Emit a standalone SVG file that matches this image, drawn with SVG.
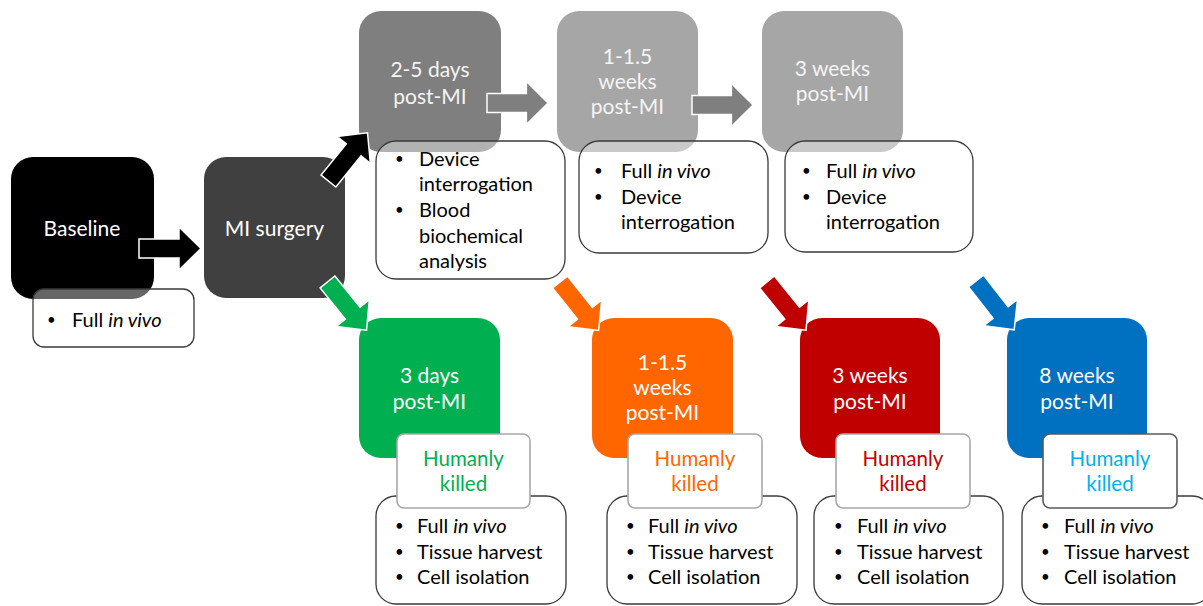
<svg xmlns="http://www.w3.org/2000/svg" width="1203" height="606" viewBox="0 0 1203 606">
<style>
text{font-family:Lato,"Liberation Sans",sans-serif;font-size:20px}
.t{fill:#fff;text-anchor:middle;font-size:21px}
.tg{fill:#f4f4f4;text-anchor:middle;font-size:21px}
.b{fill:#000}
.d{font-size:15px}
.i{font-style:italic}
.bx{fill:#fff;fill-opacity:0.4;stroke:#3a3a3a;stroke-width:1.3}
.hk{fill:#fff;stroke:#a8a8a8;stroke-width:1.6}
.hkt{text-anchor:middle;font-size:20.5px}
.ar{stroke:#fff;stroke-width:1.5;stroke-linejoin:miter}
</style>
<defs>
<path id="arr" d="M0,-9.5 L40,-9.5 L40,-21.5 L62,0 L40,21.5 L40,9.5 L0,9.5 Z"/>
</defs>
<rect width="1203" height="606" fill="#fff"/>

<g id="baseline">
<rect x="11" y="157" width="143" height="142" rx="22" fill="#000"/>
<text class="t" x="82" y="236">Baseline</text>
<rect class="bx" x="33" y="289" width="161" height="58" rx="11"/>
<text class="b d" x="47" y="325">•</text>
<text class="b" x="72" y="327">Full <tspan class="i">in vivo</tspan></text>
</g>

<g id="mi-surgery">
<rect x="204" y="157" width="141" height="141" rx="22" fill="#404040"/>
<text class="t" x="274.5" y="236">MI surgery</text>
</g>

<g id="d2-5">
<rect x="359" y="11" width="142" height="141" rx="22" fill="#7f7f7f"/>
<text class="tg" x="430" y="77">2-5 days</text>
<text class="tg" x="430" y="104">post-MI</text>
<rect class="bx" x="376" y="141" width="189" height="138" rx="20"/>
<text class="b d" x="395" y="164">•</text>
<text class="b" x="419" y="166">Device</text>
<text class="b" x="419" y="191">interrogation</text>
<text class="b d" x="395" y="215">•</text>
<text class="b" x="419" y="217">Blood</text>
<text class="b" x="419" y="243">biochemical</text>
<text class="b" x="419" y="268">analysis</text>
</g>

<g id="w1-1-5-top">
<rect x="557" y="11" width="141" height="141" rx="22" fill="#a6a6a6"/>
<text class="tg" x="627.5" y="64">1-1.5</text>
<text class="tg" x="627.5" y="89">weeks</text>
<text class="tg" x="627.5" y="114">post-MI</text>
<rect class="bx" x="579" y="141" width="189" height="112" rx="20"/>
<text class="b d" x="594" y="176">•</text>
<text class="b" x="621" y="178">Full <tspan class="i">in vivo</tspan></text>
<text class="b d" x="594" y="202">•</text>
<text class="b" x="621" y="204">Device</text>
<text class="b" x="621" y="229">interrogation</text>
</g>

<g id="w3-top">
<rect x="762" y="11" width="141" height="141" rx="22" fill="#a6a6a6"/>
<text class="tg" x="832.5" y="76">3 weeks</text>
<text class="tg" x="832.5" y="101">post-MI</text>
<rect class="bx" x="785" y="141" width="188" height="111" rx="20"/>
<text class="b d" x="802" y="176">•</text>
<text class="b" x="826" y="178">Full <tspan class="i">in vivo</tspan></text>
<text class="b d" x="802" y="202">•</text>
<text class="b" x="826" y="204">Device</text>
<text class="b" x="826" y="229">interrogation</text>
</g>

<g id="d3-bottom">
<rect x="359" y="318" width="141" height="140" rx="22" fill="#00b050"/>
<text class="t" x="429.5" y="383">3 days</text>
<text class="t" x="429.5" y="409">post-MI</text>
<rect class="bx" x="376" y="496" width="190" height="108" rx="20"/>
<rect class="hk" x="397" y="434" width="133" height="74" rx="7"/>
<text class="hkt" x="463.5" y="466" fill="#00b050">Humanly</text>
<text class="hkt" x="463.5" y="491" fill="#00b050">killed</text>
<text class="b d" x="395" y="531">•</text>
<text class="b" x="417" y="533">Full <tspan class="i">in vivo</tspan></text>
<text class="b d" x="395" y="557">•</text>
<text class="b" x="417" y="559">Tissue harvest</text>
<text class="b d" x="395" y="582">•</text>
<text class="b" x="417" y="584">Cell isolation</text>
</g>

<g id="w1-1-5-bottom">
<rect x="592" y="318" width="141" height="140" rx="22" fill="#ff6600"/>
<text class="t" x="662.5" y="370">1-1.5</text>
<text class="t" x="662.5" y="395">weeks</text>
<text class="t" x="662.5" y="420">post-MI</text>
<rect class="bx" x="607" y="496" width="190" height="108" rx="20"/>
<rect class="hk" x="628" y="434" width="134" height="74" rx="7"/>
<text class="hkt" x="695" y="466" fill="#ff6600">Humanly</text>
<text class="hkt" x="695" y="491" fill="#ff6600">killed</text>
<text class="b d" x="626" y="531">•</text>
<text class="b" x="648" y="533">Full <tspan class="i">in vivo</tspan></text>
<text class="b d" x="626" y="557">•</text>
<text class="b" x="648" y="559">Tissue harvest</text>
<text class="b d" x="626" y="582">•</text>
<text class="b" x="648" y="584">Cell isolation</text>
</g>

<g id="w3-bottom">
<rect x="800" y="318" width="140" height="140" rx="22" fill="#c00000"/>
<text class="t" x="870" y="383">3 weeks</text>
<text class="t" x="870" y="409">post-MI</text>
<rect class="bx" x="814" y="496" width="189" height="108" rx="20"/>
<rect class="hk" x="836" y="434" width="134" height="74" rx="7"/>
<text class="hkt" x="903" y="466" fill="#c00000">Humanly</text>
<text class="hkt" x="903" y="491" fill="#c00000">killed</text>
<text class="b d" x="834" y="531">•</text>
<text class="b" x="857" y="533">Full <tspan class="i">in vivo</tspan></text>
<text class="b d" x="834" y="557">•</text>
<text class="b" x="857" y="559">Tissue harvest</text>
<text class="b d" x="834" y="582">•</text>
<text class="b" x="857" y="584">Cell isolation</text>
</g>

<g id="w8-bottom">
<rect x="1007" y="318" width="140" height="140" rx="22" fill="#0070c0"/>
<text class="t" x="1077" y="383">8 weeks</text>
<text class="t" x="1077" y="409">post-MI</text>
<rect class="bx" x="1022" y="496" width="190" height="108" rx="20"/>
<rect class="hk" x="1043" y="434" width="134" height="74" rx="7" style="stroke:#595959"/>
<text class="hkt" x="1110" y="466" fill="#00b0f0">Humanly</text>
<text class="hkt" x="1110" y="491" fill="#00b0f0">killed</text>
<text class="b d" x="1041" y="531">•</text>
<text class="b" x="1064" y="533">Full <tspan class="i">in vivo</tspan></text>
<text class="b d" x="1041" y="557">•</text>
<text class="b" x="1064" y="559">Tissue harvest</text>
<text class="b d" x="1041" y="582">•</text>
<text class="b" x="1064" y="584">Cell isolation</text>
</g>

<g id="connectors">
<use href="#arr" class="ar" fill="#000" transform="translate(139,248.5)"/>
<use href="#arr" class="ar" fill="#7f7f7f" transform="translate(487,103) scale(0.985,1)"/>
<use href="#arr" class="ar" fill="#7f7f7f" transform="translate(692,105) scale(0.985,1)"/>
<use href="#arr" class="ar" fill="#000" transform="translate(328.5,181) rotate(-51)"/>
<use href="#arr" class="ar" fill="#00b050" transform="translate(327.5,282) rotate(51)"/>
<use href="#arr" class="ar" fill="#ff6600" transform="translate(560,282) rotate(51.5)"/>
<use href="#arr" class="ar" fill="#c00000" transform="translate(767,282) rotate(51)"/>
<use href="#arr" class="ar" fill="#0070c0" transform="translate(976,281) rotate(52)"/>
</g>
</svg>
